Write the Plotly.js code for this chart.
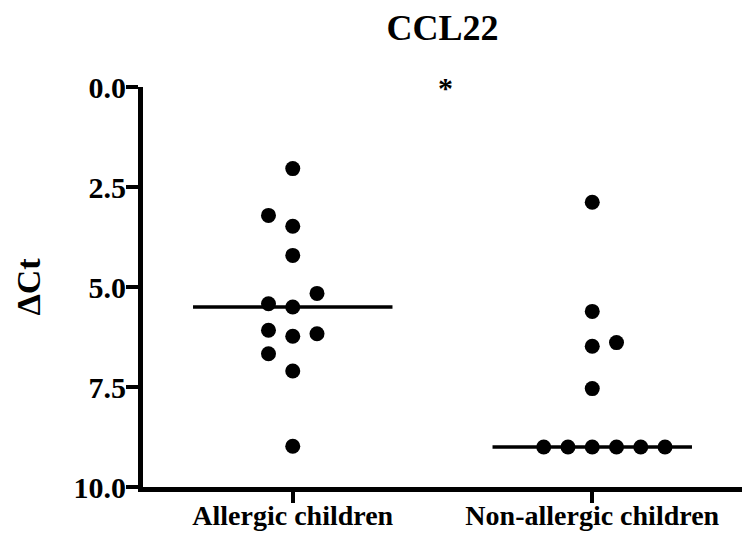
<!DOCTYPE html>
<html>
<head>
<meta charset="utf-8">
<script src="https://cdn.plot.ly/plotly-3.0.1.min.js"></script>
<style>html,body{margin:0;padding:0;background:#fff;}#chart{width:742px;height:540px;}</style>
</head>
<body>
<div id="chart"></div>
<script>
// Data
const categories = ["Allergic children", "Non-allergic children"];
const allergicValues = [2.04, 3.21, 3.48, 4.21, 5.16, 5.42, 5.5, 6.08, 6.23, 6.17, 6.67, 7.1, 8.98];
const allergicSlots  = [0, -1, 0, 0, 1, -1, 0, -1, 0, 1, -1, 0, 0];
const nonAllergicValues = [2.88, 5.61, 6.48, 6.39, 7.54, 9.0, 9.0, 9.0, 9.0, 9.0, 9.0];
const nonAllergicSlots  = [0, 0, 0, 1, 0, -2, -1, 0, 1, 2, 3];
const medians = [5.5, 9.0];
const yTickVals = [0, 2.5, 5, 7.5, 10];
const yTickText = ["0.0", "2.5", "5.0", "7.5", "10.0"];

const slotWidth = 0.081;
const halfLine = 0.333;
const FONT = "Liberation Serif, Times New Roman, serif";

function dots(ci, vals, slots) {
  return {
    type: "scatter", mode: "markers",
    x: vals.map((v, i) => ci + slots[i] * slotWidth),
    y: vals,
    marker: {color: "#000", size: 15},
    hoverinfo: "y", showlegend: false, cliponaxis: false
  };
}
function medianLine(ci) {
  return {
    type: "scatter", mode: "lines",
    x: [ci - halfLine, ci + halfLine],
    y: [medians[ci], medians[ci]],
    line: {color: "#000", width: 3.5},
    hoverinfo: "skip", showlegend: false
  };
}

const data = [
  medianLine(0), medianLine(1),
  dots(0, allergicValues, allergicSlots),
  dots(1, nonAllergicValues, nonAllergicSlots)
];

const layout = {
  width: 742, height: 540,
  margin: {l: 143, r: 0, t: 87, b: 53},
  paper_bgcolor: "#fff", plot_bgcolor: "#fff",
  font: {family: FONT, color: "#000"},
  title: {text: "<b>CCL22</b>", font: {family: FONT, size: 36, color: "#000"},
          x: 0.5, xref: "paper", xanchor: "center", y: 0.95, yref: "container", yanchor: "middle"},
  xaxis: {
    range: [-0.5, 1.5], tickvals: [0, 1],
    ticktext: categories.map(c => "<b>" + c + "</b>"),
    ticks: "outside", ticklen: 11, tickwidth: 4, tickcolor: "#000",
    showline: true, linecolor: "#000", linewidth: 5,
    showgrid: false, zeroline: false, ticklabelstandoff: -12,
    tickfont: {family: FONT, size: 28, color: "#000"}, fixedrange: true
  },
  yaxis: {
    range: [10, 0], tickvals: yTickVals, ticktext: yTickText.map(t => "<b>" + t + "</b>"),
    ticks: "outside", ticklen: 12, tickwidth: 4, tickcolor: "#000",
    showline: true, linecolor: "#000", linewidth: 5,
    showgrid: false, zeroline: false, ticklabelstandoff: -6,
    tickfont: {family: FONT, size: 30, color: "#000"},
    title: {text: "<b>ΔCt</b>", font: {family: FONT, size: 34, color: "#000"}, standoff: 24},
    fixedrange: true
  },
  annotations: [{
    text: "<b>*</b>", xref: "x", yref: "y", x: 0.51, y: 0,
    showarrow: false, yanchor: "middle", xanchor: "center",
    font: {family: FONT, size: 30, color: "#000"}
  }]
};

Plotly.newPlot("chart", data, layout, {displayModeBar: false, staticPlot: true});
</script>
</body>
</html>
